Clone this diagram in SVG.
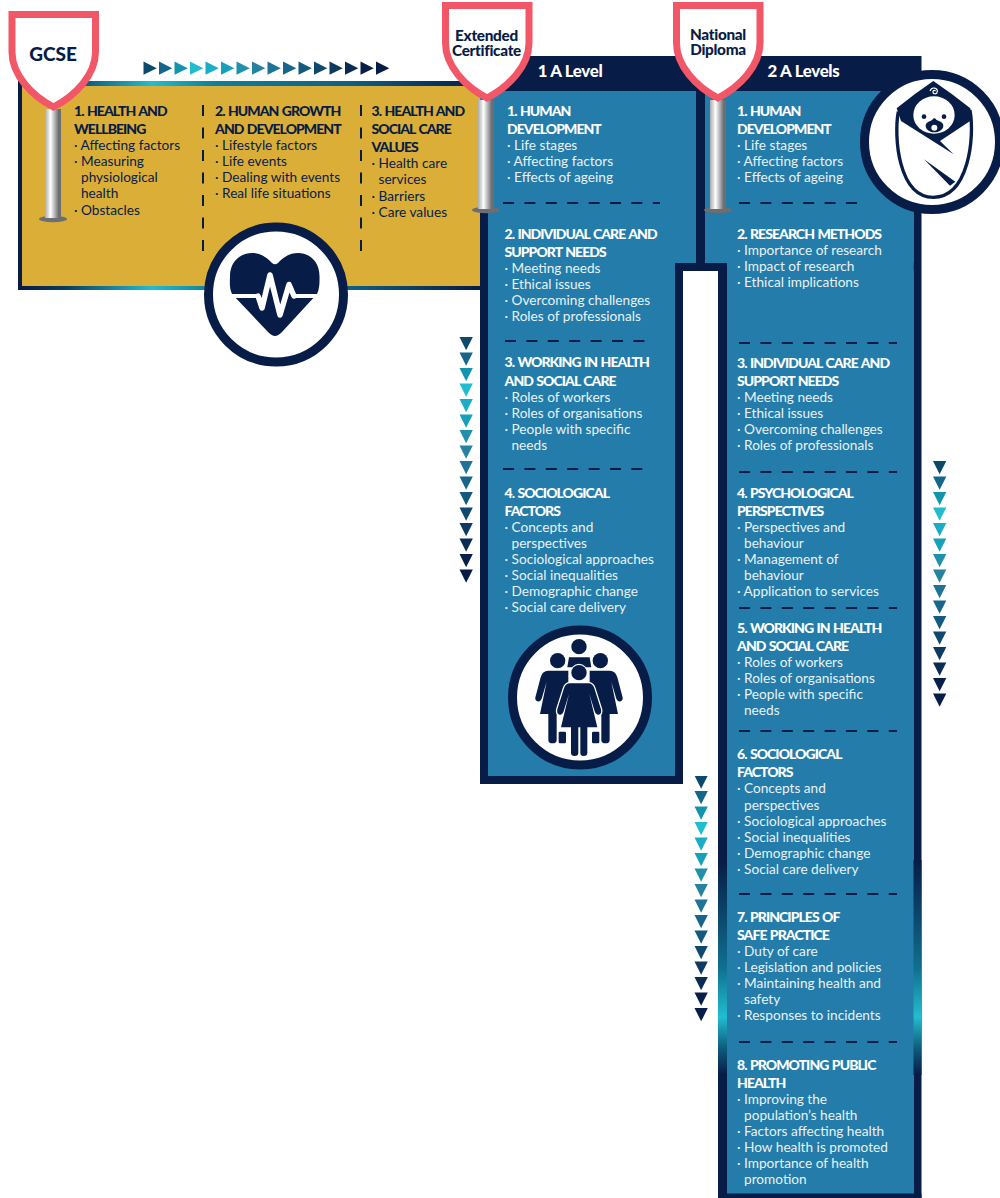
<svg xmlns="http://www.w3.org/2000/svg" width="1000" height="1198" viewBox="0 0 1000 1198">
<style>
text{font-family:Lato,"Noto Sans",sans-serif}
.h{font-size:14px;font-weight:900;letter-spacing:-.95px;word-spacing:1px}
.t{font-size:13.65px}
.g{fill:#071c46}.b{fill:#e9f2f7}.b .h{fill:#fff}
.s{font-size:19px;font-weight:900;fill:#071c46;text-anchor:middle}
.s2{font-size:15.3px;font-weight:900;fill:#071c46;text-anchor:middle;letter-spacing:-.3px}
.hd{font-size:16.8px;font-weight:900;fill:#fff;letter-spacing:-.3px}
.shield{fill:#fff;stroke:#f25768;stroke-width:7;stroke-linejoin:miter}
.ring{fill:#fff;stroke:#071c46;stroke-width:9}
.dv{stroke:#071c46;stroke-width:2;stroke-dasharray:11 11.5;fill:none}
.dh{stroke:#071c46;stroke-width:2;stroke-dasharray:11 10.4;fill:none}
.n{fill:#071c46}
</style>
<defs>
<linearGradient id="gh" gradientUnits="userSpaceOnUse" x1="18" y1="0" x2="480" y2="0">
<stop offset="0" stop-color="#071c46"/><stop offset=".1" stop-color="#0a3a60"/><stop offset=".29" stop-color="#22bdd0"/><stop offset=".42" stop-color="#0f7f9c"/><stop offset=".72" stop-color="#0f5f84"/><stop offset="1" stop-color="#071c46"/>
</linearGradient>
<linearGradient id="gv" gradientUnits="userSpaceOnUse" x1="0" y1="860" x2="0" y2="1075">
<stop offset="0" stop-color="#071c46"/><stop offset=".5" stop-color="#0f6f90"/><stop offset=".73" stop-color="#22bdd0"/><stop offset=".87" stop-color="#0e5f80"/><stop offset="1" stop-color="#071c46"/>
</linearGradient>
<linearGradient id="pole" x1="0" y1="0" x2="1" y2="0">
<stop offset="0" stop-color="#a9aaac"/><stop offset=".35" stop-color="#fff"/><stop offset=".55" stop-color="#c4c5c7"/><stop offset=".85" stop-color="#6d6e71"/><stop offset="1" stop-color="#6d6e71"/>
</linearGradient>
<path id="sh" class="shield" d="M12,14.5H95.5V52C95.5,75 75,96 53.5,107C32,96 12,75 12,52Z"/>
<g id="pl"><ellipse cx="8" cy="110" rx="14" ry="3.2" fill="#6d6e71"/><rect x="0" y="0" width="16" height="109" fill="url(#pole)"/></g>
<g id="vrow">
<polygon points="0,0 13.3,0 6.65,13.3" fill="#0c4a6b"/>
<polygon points="0,15.5 13.3,15.5 6.65,28.8" fill="#14668a"/>
<polygon points="0,31 13.3,31 6.65,44.3" fill="#1394ad"/>
<polygon points="0,46.5 13.3,46.5 6.65,59.8" fill="#22bccf"/>
<polygon points="0,62 13.3,62 6.65,75.3" fill="#1badc6"/>
<polygon points="0,77.5 13.3,77.5 6.65,90.8" fill="#17a0ba"/>
<polygon points="0,93 13.3,93 6.65,106.3" fill="#2090ac"/>
<polygon points="0,108.5 13.3,108.5 6.65,121.8" fill="#27829f"/>
<polygon points="0,124 13.3,124 6.65,137.3" fill="#1f7398"/>
<polygon points="0,139.5 13.3,139.5 6.65,152.8" fill="#17658a"/>
<polygon points="0,155 13.3,155 6.65,168.3" fill="#125a7e"/>
<polygon points="0,170.5 13.3,170.5 6.65,183.8" fill="#0f4a6e"/>
<polygon points="0,186 13.3,186 6.65,199.3" fill="#0c3a60"/>
<polygon points="0,201.5 13.3,201.5 6.65,214.8" fill="#0a2c53"/>
<polygon points="0,217 13.3,217 6.65,230.3" fill="#081f49"/>
<polygon points="0,232.5 13.3,232.5 6.65,245.8" fill="#071c46"/>
</g>
<g id="fig">
<path class="n" d="M145,152H205V282H170V360Q170,370 157,370Q145,370 145,360V282H120L140,185L125,236Q120,247 112,244Q103,241 107,229L122,172Q127,152 145,152Z"/>
<rect class="n" x="176" y="335" width="22" height="35" rx="4"/>
<circle class="n" cx="173" cy="122" r="23"/>
</g>
</defs>

<g id="connectors">
<use href="#vrow" x="459.5" y="337"/>
<use href="#vrow" x="694.5" y="296"/>
<use href="#vrow" x="694.5" y="775.5"/>
<use href="#vrow" x="933" y="461"/>
<g id="arrows-h" transform="translate(143.5,61.5)">
<polygon points="0,0 13.3,6.65 0,13.3" fill="#0c4a6b"/>
<polygon points="15.5,0 28.8,6.65 15.5,13.3" fill="#14668a"/>
<polygon points="31,0 44.3,6.65 31,13.3" fill="#1394ad"/>
<polygon points="46.5,0 59.8,6.65 46.5,13.3" fill="#22bccf"/>
<polygon points="62,0 75.3,6.65 62,13.3" fill="#1badc6"/>
<polygon points="77.5,0 90.8,6.65 77.5,13.3" fill="#17a0ba"/>
<polygon points="93,0 106.3,6.65 93,13.3" fill="#2090ac"/>
<polygon points="108.5,0 121.8,6.65 108.5,13.3" fill="#27829f"/>
<polygon points="124,0 137.3,6.65 124,13.3" fill="#1f7398"/>
<polygon points="139.5,0 152.8,6.65 139.5,13.3" fill="#17658a"/>
<polygon points="155,0 168.3,6.65 155,13.3" fill="#125a7e"/>
<polygon points="170.5,0 183.8,6.65 170.5,13.3" fill="#0f4a6e"/>
<polygon points="186,0 199.3,6.65 186,13.3" fill="#0c3a60"/>
<polygon points="201.5,0 214.8,6.65 201.5,13.3" fill="#0a2c53"/>
<polygon points="217,0 230.3,6.65 217,13.3" fill="#081f49"/>
<polygon points="232.5,0 245.8,6.65 232.5,13.3" fill="#071c46"/>
</g>
</g>

<g id="gcse-panel">
<rect x="18" y="81" width="464" height="209" fill="#071c46"/>
<rect x="18" y="81" width="464" height="5" fill="url(#gh)"/>
<rect x="18" y="286" width="464" height="4" fill="url(#gh)"/>
<rect x="18" y="81" width="4" height="209" fill="#071c46"/>
<rect x="22" y="86" width="458" height="200" fill="#dbae38"/>
<path class="dv" d="M203,105V254M361,105V254"/>
<text class="g"><tspan class="h" x="74" y="115.5">1. HEALTH AND</tspan><tspan class="h" x="74" y="133.5">WELLBEING</tspan><tspan class="t" x="74" y="149.5">· Affecting factors</tspan><tspan class="t" x="74" y="165.5">· Measuring</tspan><tspan class="t" x="81" y="181.5">physiological</tspan><tspan class="t" x="81" y="197.5">health</tspan><tspan class="t" x="74" y="215">· Obstacles</tspan></text>
<text class="g"><tspan class="h" x="215" y="115.5">2. HUMAN GROWTH</tspan><tspan class="h" x="215" y="133.5">AND DEVELOPMENT</tspan><tspan class="t" x="215" y="149.5">· Lifestyle factors</tspan><tspan class="t" x="215" y="165.5">· Life events</tspan><tspan class="t" x="215" y="181.5">· Dealing with events</tspan><tspan class="t" x="215" y="197.5">· Real life situations</tspan></text>
<text class="g"><tspan class="h" x="371.5" y="115.5">3. HEALTH AND</tspan><tspan class="h" x="371.5" y="133.5">SOCIAL CARE</tspan><tspan class="h" x="371.5" y="151.5">VALUES</tspan><tspan class="t" x="371.5" y="167.5">· Health care</tspan><tspan class="t" x="378.5" y="183.5">services</tspan><tspan class="t" x="371.5" y="200.5">· Barriers</tspan><tspan class="t" x="371.5" y="216.5">· Care values</tspan></text>
<g id="heart-icon">
<circle class="ring" cx="276" cy="294.5" r="67.5"/>
<path class="n" d="M275,336Q272,336 268,332L232,294C229,288 230,280 230,276C230,262 240,253 252,253C262,253 268,259 272,263Q275,265.5 278,263C282,259 288,253 298,253C310,253 319.5,262 319.5,276C319.5,280 320,288 317,294L282,332Q278,336 275,336Z"/>
<path d="M232,296H258M294,296H319" stroke="#fff" stroke-width="4" fill="none"/>
<path d="M258,296L262,308L270,275L280,315L289,284.5L294,296" stroke="#fff" stroke-width="5.5" stroke-linejoin="round" stroke-linecap="round" fill="none"/>
</g>
</g>

<g id="alevel-panels">
<rect x="480" y="56" width="441.500" height="35" fill="#071c46"/>
<rect x="480" y="91" width="8" height="693" fill="#071c46"/>
<rect x="480" y="776" width="203" height="8" fill="#071c46"/>
<rect x="480" y="91" width="216" height="122" fill="#237ca9"/>
<rect x="488" y="213" width="208" height="563" fill="#237ca9"/>
<rect x="696" y="91" width="9" height="180" fill="#071c46"/>
<rect x="705" y="91" width="208.500" height="180" fill="#237ca9"/>
<rect x="727" y="263" width="186.500" height="931" fill="#237ca9"/>
<rect x="913.500" y="91" width="8" height="1107" fill="#071c46"/>
<rect x="718" y="263" width="9" height="935" fill="#071c46"/>
<rect x="675" y="263" width="52" height="8" fill="#071c46"/>
<rect x="675" y="263" width="8" height="521" fill="#071c46"/>
<rect x="683" y="271" width="35" height="505" fill="#fff"/>
<rect x="718" y="860" width="9" height="215" fill="url(#gv)"/>
<rect x="913.500" y="860" width="8" height="215" fill="url(#gv)"/>
<rect x="718" y="1193.500" width="203.500" height="4.500" fill="#071c46"/>
<path class="dh" d="M503,203H660M505,341H651M503,469H651M739,203H866M739,343H897M739,472H897M739,608H897M739,731H897M739,894H897M739,1042H897"/>
<text class="hd" x="570" y="77" text-anchor="middle">1 A Level</text>
<text class="hd" x="803.500" y="77" text-anchor="middle">2 A Levels</text>

<g id="col1" class="b">
<text><tspan class="h" x="507" y="115.500">1. HUMAN</tspan><tspan class="h" x="507" y="133.500">DEVELOPMENT</tspan><tspan class="t" x="507" y="149.500">· Life stages</tspan><tspan class="t" x="507" y="165.500">· Affecting factors</tspan><tspan class="t" x="507" y="181.500">· Effects of ageing</tspan></text>
<text><tspan class="h" x="504.500" y="239">2. INDIVIDUAL CARE AND</tspan><tspan class="h" x="504.500" y="257">SUPPORT NEEDS</tspan><tspan class="t" x="504.500" y="273">· Meeting needs</tspan><tspan class="t" x="504.500" y="289">· Ethical issues</tspan><tspan class="t" x="504.500" y="305">· Overcoming challenges</tspan><tspan class="t" x="504.500" y="321">· Roles of professionals</tspan></text>
<text><tspan class="h" x="504.500" y="367">3. WORKING IN HEALTH</tspan><tspan class="h" x="504.500" y="385.500">AND SOCIAL CARE</tspan><tspan class="t" x="504.500" y="402">· Roles of workers</tspan><tspan class="t" x="504.500" y="418">· Roles of organisations</tspan><tspan class="t" x="504.500" y="434">· People with specific</tspan><tspan class="t" x="511.500" y="450">needs</tspan></text>
<text><tspan class="h" x="504.500" y="498">4. SOCIOLOGICAL</tspan><tspan class="h" x="504.500" y="516">FACTORS</tspan><tspan class="t" x="504.500" y="532">· Concepts and</tspan><tspan class="t" x="511.500" y="548">perspectives</tspan><tspan class="t" x="504.500" y="564">· Sociological approaches</tspan><tspan class="t" x="504.500" y="580">· Social inequalities</tspan><tspan class="t" x="504.500" y="596">· Demographic change</tspan><tspan class="t" x="504.500" y="612">· Social care delivery</tspan></text>
</g>

<g id="col2" class="b">
<text><tspan class="h" x="737" y="115.500">1. HUMAN</tspan><tspan class="h" x="737" y="133.500">DEVELOPMENT</tspan><tspan class="t" x="737" y="149.500">· Life stages</tspan><tspan class="t" x="737" y="165.500">· Affecting factors</tspan><tspan class="t" x="737" y="181.500">· Effects of ageing</tspan></text>
<text><tspan class="h" x="737" y="239">2. RESEARCH METHODS</tspan><tspan class="t" x="737" y="255">· Importance of research</tspan><tspan class="t" x="737" y="271">· Impact of research</tspan><tspan class="t" x="737" y="287">· Ethical implications</tspan></text>
<text><tspan class="h" x="737" y="368">3. INDIVIDUAL CARE AND</tspan><tspan class="h" x="737" y="386">SUPPORT NEEDS</tspan><tspan class="t" x="737" y="402">· Meeting needs</tspan><tspan class="t" x="737" y="418">· Ethical issues</tspan><tspan class="t" x="737" y="434">· Overcoming challenges</tspan><tspan class="t" x="737" y="450">· Roles of professionals</tspan></text>
<text><tspan class="h" x="737" y="498">4. PSYCHOLOGICAL</tspan><tspan class="h" x="737" y="516">PERSPECTIVES</tspan><tspan class="t" x="737" y="532">· Perspectives and</tspan><tspan class="t" x="744" y="548">behaviour</tspan><tspan class="t" x="737" y="564">· Management of</tspan><tspan class="t" x="744" y="580">behaviour</tspan><tspan class="t" x="737" y="596">· Application to services</tspan></text>
<text><tspan class="h" x="737" y="633">5. WORKING IN HEALTH</tspan><tspan class="h" x="737" y="651">AND SOCIAL CARE</tspan><tspan class="t" x="737" y="667">· Roles of workers</tspan><tspan class="t" x="737" y="683">· Roles of organisations</tspan><tspan class="t" x="737" y="699">· People with specific</tspan><tspan class="t" x="744" y="715">needs</tspan></text>
<text><tspan class="h" x="737" y="759">6. SOCIOLOGICAL</tspan><tspan class="h" x="737" y="777">FACTORS</tspan><tspan class="t" x="737" y="793">· Concepts and</tspan><tspan class="t" x="744" y="810">perspectives</tspan><tspan class="t" x="737" y="826">· Sociological approaches</tspan><tspan class="t" x="737" y="842">· Social inequalities</tspan><tspan class="t" x="737" y="858">· Demographic change</tspan><tspan class="t" x="737" y="874">· Social care delivery</tspan></text>
<text><tspan class="h" x="737" y="922">7. PRINCIPLES OF</tspan><tspan class="h" x="737" y="940">SAFE PRACTICE</tspan><tspan class="t" x="737" y="956">· Duty of care</tspan><tspan class="t" x="737" y="972">· Legislation and policies</tspan><tspan class="t" x="737" y="988">· Maintaining health and</tspan><tspan class="t" x="744" y="1004">safety</tspan><tspan class="t" x="737" y="1020">· Responses to incidents</tspan></text>
<text><tspan class="h" x="737" y="1069.500">8. PROMOTING PUBLIC</tspan><tspan class="h" x="737" y="1087.500">HEALTH</tspan><tspan class="t" x="737" y="1104">· Improving the</tspan><tspan class="t" x="744" y="1120">population’s health</tspan><tspan class="t" x="737" y="1136">· Factors affecting health</tspan><tspan class="t" x="737" y="1152">· How health is promoted</tspan><tspan class="t" x="737" y="1168">· Importance of health</tspan><tspan class="t" x="744" y="1184">promotion</tspan></text>
</g>

<g id="people-icon">
<circle class="ring" cx="580" cy="697.500" r="67.500"/>
<g transform="translate(500,620) scale(.3333)">
<circle class="n" cx="237" cy="80" r="23"/>
<path class="n" d="M207,112H269L274,142H202Z"/>
<use href="#fig"/>
<use href="#fig" transform="translate(474,0) scale(-1,1)"/>
<circle class="n" cx="237" cy="158" r="23" stroke="#fff" stroke-width="7" paint-order="stroke"/>
<path class="n" stroke="#fff" stroke-width="8" paint-order="stroke" stroke-linejoin="round" d="M210,190H265Q278,190 283,205L303,268Q306,282 296,284Q288,285 284,274L268,222L292,322H262V398Q262,408 251,408Q241,408 241,398V322H235V398Q235,408 224,408Q213,408 213,398V322H183L207,222L191,274Q187,285 179,284Q169,282 172,268L192,205Q197,190 210,190Z"/>
</g>
</g>

<g id="baby-icon">
<circle class="ring" cx="932" cy="142" r="67.500"/>
<g transform="translate(855,65) scale(.3333)">
<path d="M130,140C116,215 130,397 235,397C340,397 360,220 345,135" fill="none" stroke="#071c46" stroke-width="10"/>
<path class="n" d="M235,48Q290,85 346,130L350,165L255,228L296,268L138,168L125,130Q180,85 235,48Z"/>
<ellipse cx="237" cy="150" rx="62" ry="56" fill="#fff"/>
<circle class="n" cx="207" cy="155" r="7"/><circle class="n" cx="267" cy="155" r="7"/>
<path class="n" d="M212,182C212,170 228,168 232,164Q238,156 244,164C250,168 265,170 265,182C265,194 252,202 238,202C225,202 212,194 212,182Z"/>
<ellipse cx="238" cy="188" rx="9" ry="9" fill="#fff"/>
<path d="M225,78C230,64 248,68 247,80C246,89 234,88 234,80C234,75 241,75 241,79" fill="none" stroke="#fff" stroke-width="3.500"/>
<path class="n" d="M207,283L301,350L285,362Z"/>
</g>
</g>
</g>

<g id="badge-gcse">
<use href="#pl" x="45" y="109"/>
<use href="#sh"/>
<text class="s" x="53" y="61">GCSE</text>
</g>
<g id="badge-extended">
<use href="#pl" x="478" y="100"/>
<use href="#sh" x="433.500" y="-9"/>
<text class="s2" x="486.500" y="40.500">Extended</text>
<text class="s2" x="486.500" y="56">Certificate</text>
</g>
<g id="badge-national">
<use href="#pl" x="710" y="100"/>
<use href="#sh" x="664.500" y="-9"/>
<text class="s2" x="718" y="40">National</text>
<text class="s2" x="718" y="55">Diploma</text>
</g>
</svg>
